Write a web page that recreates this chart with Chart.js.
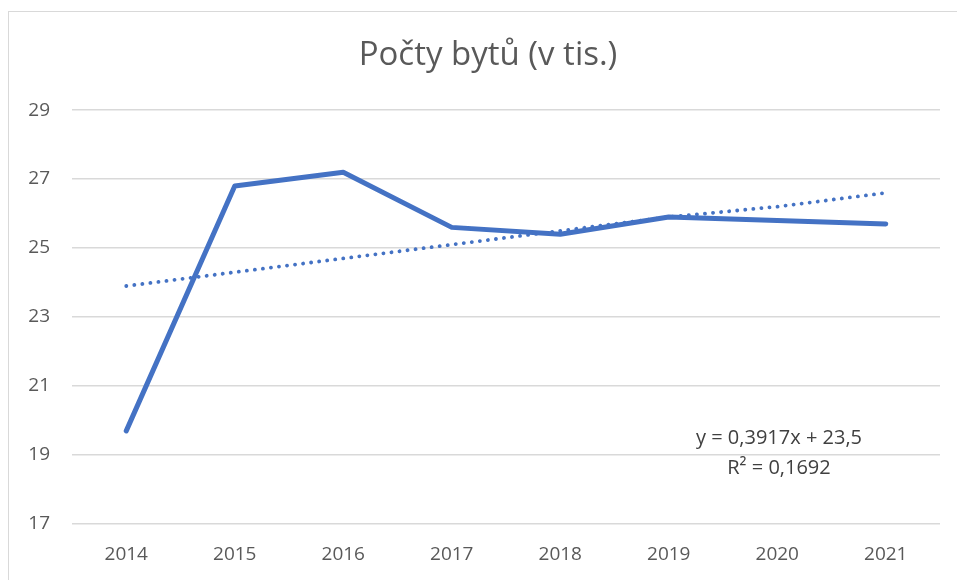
<!DOCTYPE html>
<html lang="cs">
<head>
<meta charset="utf-8">
<title>Počty bytů (v tis.)</title>
<script src="https://cdn.jsdelivr.net/npm/chart.js@4.4.1/dist/chart.umd.min.js"></script>
<style>
    html, body { margin: 0; padding: 0; background: #fff; overflow: hidden; }
    #wrap { position: relative; width: 957px; height: 580px; }
    #frame {
        position: absolute; left: 8px; top: 11px; width: 970px; height: 600px;
        border: 1px solid #d9d9d9; box-sizing: border-box;
    }
    #chart { position: absolute; left: 0; top: 0; }
</style>
</head>
<body>
<div id="wrap">
    <div id="frame"></div>
    <canvas id="chart" width="957" height="580"></canvas>
</div>
<script>
    // ============================================================
    // DATA
    // ============================================================
    const years = ['2014', '2015', '2016', '2017', '2018', '2019', '2020', '2021'];
    const flats = [19.7, 26.8, 27.2, 25.6, 25.4, 25.9, 25.8, 25.7];
    const trend = [23.9, 24.3, 24.7, 25.1, 25.5, 25.9, 26.2, 26.6];
    const yTicks = [17, 19, 21, 23, 25, 27, 29];
    const equationLines = ['y = 0,3917x + 23,5', 'R² = 0,1692'];

    (function () {
        'use strict';

        const FONT = "'Open Sans', 'Noto Sans', sans-serif";
        const BLUE = '#4472C4';

        // centre the title over the frame rather than the whole canvas
        const titleShift = {
            id: 'titleShift',
            afterLayout(chart) {
                if (chart.titleBlock) chart.titleBlock.left = 36;
            }
        };

        // trendline label, drawn inside the plot
        const equationLabel = {
            id: 'equationLabel',
            afterDatasetsDraw(chart) {
                const ctx = chart.ctx;
                ctx.save();
                ctx.font = '20px ' + FONT;
                ctx.fillStyle = '#404040';
                ctx.textAlign = 'center';
                ctx.textBaseline = 'middle';
                equationLines.forEach((line, i) => {
                    ctx.fillText(line, 779, 438 + i * 30);
                });
                ctx.restore();
            }
        };

        new Chart(document.getElementById('chart'), {
            type: 'line',
            data: {
                labels: years,
                datasets: [
                    {
                        label: 'Počty bytů',
                        data: flats,
                        borderColor: BLUE,
                        borderWidth: 5,
                        borderJoinStyle: 'round',
                        borderCapStyle: 'round',
                        pointRadius: 0,
                        tension: 0,
                        order: 1
                    },
                    {
                        label: 'Lineární (Počty bytů)',
                        data: trend,
                        borderColor: BLUE,
                        borderWidth: 3.8,
                        borderCapStyle: 'round',
                        borderDash: [0.1, 8],
                        pointRadius: 0,
                        tension: 0,
                        order: 2
                    }
                ]
            },
            options: {
                responsive: false,
                animation: false,
                layout: { padding: { left: 0, right: 17, top: 0, bottom: 0 } },
                plugins: {
                    legend: { display: false },
                    tooltip: { enabled: false },
                    title: {
                        display: true,
                        text: 'Počty bytů (v tis.)',
                        color: '#595959',
                        font: { family: FONT, size: 33, weight: 'normal' },
                        padding: { top: 36, bottom: 34.5 }
                    }
                },
                scales: {
                    x: {
                        offset: true,
                        grid: { display: false, drawTicks: false },
                        border: { display: false },
                        ticks: {
                            color: '#595959',
                            font: { family: FONT, size: 19 },
                            padding: 19,
                            maxRotation: 0
                        },
                        afterFit: (scale) => { scale.height = 56; }
                    },
                    y: {
                        min: 17,
                        max: 29,
                        afterBuildTicks: (scale) => {
                            scale.ticks = yTicks.map(v => ({ value: v }));
                        },
                        grid: { color: '#d9d9d9', lineWidth: 1.5, drawTicks: false },
                        border: { display: false },
                        ticks: {
                            color: '#595959',
                            font: { family: FONT, size: 19 },
                            padding: 22
                        },
                        afterFit: (scale) => { scale.width = 72; }
                    }
                }
            },
            plugins: [titleShift, equationLabel]
        });
    })();
</script>
</body>
</html>
